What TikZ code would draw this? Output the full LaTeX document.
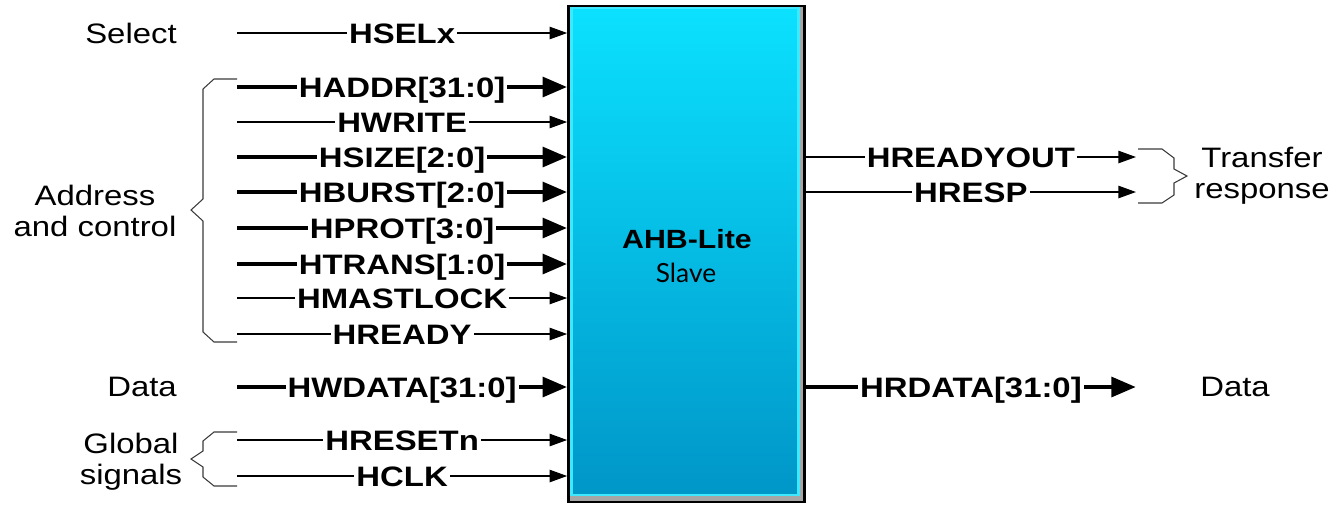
\documentclass[tikz,border=0pt]{standalone}
\usepackage{fontspec}
\setmainfont{Liberation Sans}
\newfontfamily\slavefont{Lato}
\usetikzlibrary{arrows.meta, positioning, calc}
\definecolor{SlaveTop}{HTML}{0BE1FF}
\definecolor{SlaveBottom}{HTML}{0096C8}
\definecolor{SlaveEdge}{HTML}{3EE8FF}
\definecolor{ShadowGray}{HTML}{A6A6A6}
\definecolor{BraceGray}{HTML}{3A3A3A}
\tikzset{
    % Block style
    slavebox/.style={
        rectangle,
        draw=black,
        fill=ShadowGray,
        line width=1.5pt,
        minimum width=4.72cm,
        minimum height=9.92cm
    },
    % Text styles
    signame/.style={
        fill=white,
        inner sep=1pt,
        text height=11.5pt,
        text depth=0pt,
        xscale=1.17,
        font=\fontsize{16}{18}\selectfont\bfseries
    },
    groupname/.style={
        align=center,
        xscale=1.17,
        font=\fontsize{16}{17.5}\selectfont
    },
    % Arrow styles
    busarrow/.style={
        -{Triangle[length=14pt,width=11pt]},
        line width=2.8pt
    },
    sigarrow/.style={
        -{Triangle[length=10pt,width=7pt]},
        line width=0.9pt
    },
    % Brace style
    bracket/.style={
        draw=BraceGray,
        line width=0.6pt,
        line join=miter
    }
}

\begin{document}
\begin{tikzpicture}[x=0.02cm, y=-0.02cm]
    \useasboundingbox (0,0) rectangle (1332,505);

    % Slave block
    \node[slavebox] (slave) at (686.5,254) {};
    \shade[top color=SlaveTop, bottom color=SlaveBottom, draw=SlaveEdge, line width=1.5pt]
        ($(slave.center)+(-115,-246)$) rectangle ($(slave.center)+(112,241)$);
    \node[font=\fontsize{15}{17}\selectfont\bfseries, xscale=1.15] (ahb) at (687,239) {AHB-Lite};
    \node[font=\slavefont\fontsize{15}{17}\selectfont] (role) at (686,273) {Slave};

    % Input start points
    \coordinate (hsel-in) at (237,33);
    \coordinate (haddr-in) at (237,87);
    \coordinate (hwrite-in) at (237,122);
    \coordinate (hsize-in) at (237,157);
    \coordinate (hburst-in) at (237,192);
    \coordinate (hprot-in) at (237,228);
    \coordinate (htrans-in) at (237,264);
    \coordinate (hmastlock-in) at (237,298);
    \coordinate (hready-in) at (237,334);
    \coordinate (hwdata-in) at (237,387);
    \coordinate (hresetn-in) at (237,440);
    \coordinate (hclk-in) at (237,476);

    % Inputs
    \draw[sigarrow] (hsel-in) -- (hsel-in -| slave.west) node[midway,signame] (hsel) {HSELx};
    \draw[busarrow] (haddr-in) -- (haddr-in -| slave.west) node[midway,signame] (haddr) {HADDR[31:0]};
    \draw[sigarrow] (hwrite-in) -- (hwrite-in -| slave.west) node[midway,signame] (hwrite) {HWRITE};
    \draw[busarrow] (hsize-in) -- (hsize-in -| slave.west) node[midway,signame] (hsize) {HSIZE[2:0]};
    \draw[busarrow] (hburst-in) -- (hburst-in -| slave.west) node[midway,signame] (hburst) {HBURST[2:0]};
    \draw[busarrow] (hprot-in) -- (hprot-in -| slave.west) node[midway,signame] (hprot) {HPROT[3:0]};
    \draw[busarrow] (htrans-in) -- (htrans-in -| slave.west) node[midway,signame] (htrans) {HTRANS[1:0]};
    \draw[sigarrow] (hmastlock-in) -- (hmastlock-in -| slave.west) node[midway,signame] (hmastlock) {HMASTLOCK};
    \draw[sigarrow] (hready-in) -- (hready-in -| slave.west) node[midway,signame] (hready) {HREADY};
    \draw[busarrow] (hwdata-in) -- (hwdata-in -| slave.west) node[midway,signame] (hwdata) {HWDATA[31:0]};
    \draw[sigarrow] (hresetn-in) -- (hresetn-in -| slave.west) node[midway,signame] (hresetn) {HRESETn};
    \draw[sigarrow] (hclk-in) -- (hclk-in -| slave.west) node[midway,signame] (hclk) {HCLK};

    % Output end points
    \coordinate (hreadyout-out) at (1136,157);
    \coordinate (hresp-out) at (1136,192);
    \coordinate (hrdata-out) at (1136,387);

    % Outputs
    \draw[sigarrow] (hreadyout-out -| slave.east) -- (hreadyout-out) node[midway,signame] (hreadyout) {HREADYOUT};
    \draw[sigarrow] (hresp-out -| slave.east) -- (hresp-out) node[midway,signame] (hresp) {HRESP};
    \draw[busarrow] (hrdata-out -| slave.east) -- (hrdata-out) node[midway,signame] (hrdata) {HRDATA[31:0]};

    % Group labels
    \node[groupname] (select) at (131,33) {Select};
    \node[groupname] (addrctrl) at (95,211) {Address\\and control};
    \node[groupname] (data-in) at (142,387) {Data};
    \node[groupname] (global) at (131,462) {Global\\signals};
    \node[groupname] (transfer) at (1262,176) {Transfer\\response};
    \node[groupname] (data-out) at (1235,387) {Data};

    % Braces
    \draw[bracket] (237,79) -- (214,79) -- (203,89) -- (203,199) -- (191,210)
        -- (203,221) -- (203,332) -- (214,342) -- (237,342);
    \draw[bracket] (237,432) -- (214,432) -- (203,441) -- (203,451) -- (191,459)
        -- (203,467) -- (203,477) -- (214,486) -- (237,486);
    \draw[bracket] (1138,149) -- (1162,149) -- (1174,158) -- (1174,169) -- (1187,176)
        -- (1174,183) -- (1174,195) -- (1162,203) -- (1138,203);
\end{tikzpicture}
\end{document}
